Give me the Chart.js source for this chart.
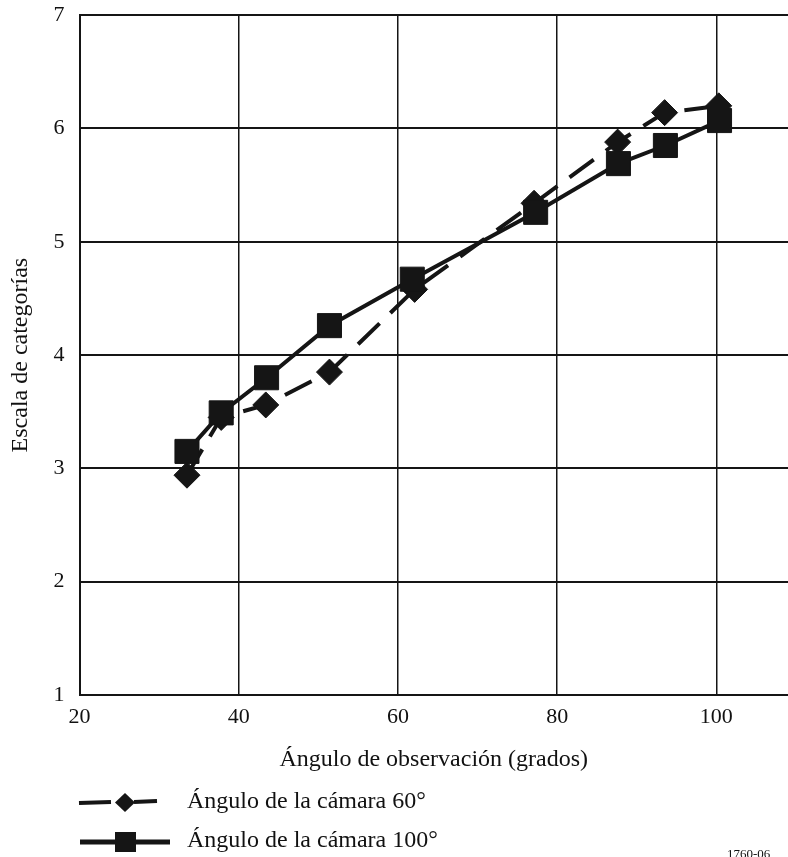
<!DOCTYPE html>
<html>
<head>
<meta charset="utf-8">
<script src="https://cdn.jsdelivr.net/npm/chart.js@4/dist/chart.umd.min.js"></script>
<style>
  html, body { margin: 0; padding: 0; background: #fff; }
  body { width: 788px; height: 857px; position: relative; overflow: hidden; font-family: "Liberation Serif", "DejaVu Serif", serif; color: #111; }
  #c { position: absolute; left: 0; top: -13px; }
  .leg { position: absolute; left: 0; font-size: 24px; white-space: nowrap; }
  .leg svg { position: absolute; left: 0; top: 0; }
  .leg span { position: absolute; left: 187px; }
  #ref { position: absolute; left: 727px; top: 846px; font-size: 13px; white-space: nowrap; }
</style>
</head>
<body>
<canvas id="c" width="806" height="870"></canvas>
<div class="leg" style="top:783px;">
  <svg width="180" height="40"><line x1="79" y1="20" x2="111" y2="19" stroke="#151515" stroke-width="4"/><line x1="134" y1="19" x2="157" y2="18" stroke="#151515" stroke-width="4"/><polygon points="125,10 135,19.5 125,29 115,19.5" fill="#151515"/></svg>
  <span style="top:4px;">Ángulo de la cámara 60°</span>
</div>
<div class="leg" style="top:822px;">
  <svg width="180" height="40"><line x1="80" y1="20" x2="170" y2="20" stroke="#151515" stroke-width="5"/><rect x="115" y="10" width="21" height="20" fill="#151515"/></svg>
  <span style="top:4px;">Ángulo de la cámara 100°</span>
</div>
<div id="ref">1760-06</div>
<script>
const xCam60 = [33.5, 37.8, 43.4, 51.4, 62.1, 77.1, 87.6, 93.5, 100.3];
const yCam60 = [2.94, 3.45, 3.56, 3.85, 4.58, 5.34, 5.88, 6.14, 6.20];
const xCam100 = [33.5, 37.8, 43.5, 51.4, 61.8, 77.3, 87.7, 93.6, 100.4];
const yCam100 = [3.15, 3.49, 3.80, 4.26, 4.67, 5.26, 5.69, 5.85, 6.07];
const xTicks = [20, 40, 60, 80, 100];
const yTicks = [1, 2, 3, 4, 5, 6, 7];
const xTitle = 'Ángulo de observación (grados)';
const yTitle = 'Escala de categorías';
const seriesNames = ['Ángulo de la cámara 60°', 'Ángulo de la cámara 100°'];

const toPts = (xs, ys) => xs.map((x, i) => ({x: x, y: ys[i]}));
const ink = '#151515';
const tickFont = {family: '"Liberation Serif", serif', size: 22};
const titleFont = {family: '"Liberation Serif", serif', size: 24};

new Chart(document.getElementById('c'), {
  type: 'scatter',
  data: {
    datasets: [
      {
        label: seriesNames[1], data: toPts(xCam100, yCam100), showLine: true,
        borderColor: ink, backgroundColor: ink, borderWidth: 4,
        pointStyle: 'rect', pointRadius: 17, pointBorderWidth: 1,
        pointBackgroundColor: ink, pointBorderColor: ink, order: 0
      },
      {
        label: seriesNames[0], data: toPts(xCam60, yCam60), showLine: true,
        borderColor: ink, backgroundColor: ink, borderWidth: 4, borderDash: [30, 15],
        pointStyle: 'rectRot', pointRadius: 13, pointBorderWidth: 1,
        pointBackgroundColor: ink, pointBorderColor: ink, order: 1
      }
    ]
  },
  options: {
    responsive: false, animation: false,
    layout: {padding: {top: 2, right: 0, bottom: 0, left: 0}},
    plugins: {legend: {display: false}, tooltip: {enabled: false}},
    scales: {
      x: {
        type: 'linear', min: 20, max: 109,
        afterBuildTicks: s => { s.ticks = xTicks.map(v => ({value: v})); },
        afterFit: s => { s.height = 870 - 708; },
        ticks: {color: '#111', font: tickFont, padding: 9, maxRotation: 0},
        grid: {color: ink, lineWidth: 1.5, drawTicks: false},
        border: {color: ink, width: 2},
        title: {display: true, text: xTitle, color: '#111', font: titleFont, padding: {top: 0, bottom: 83}}
      },
      y: {
        type: 'linear', min: 1, max: 7,
        afterBuildTicks: s => { s.ticks = yTicks.map(v => ({value: v})); },
        afterFit: s => { s.width = 79.5; },
        ticks: {color: '#111', font: tickFont, padding: 15},
        grid: {color: ink, lineWidth: 2, drawTicks: false},
        border: {color: ink, width: 2},
        title: {display: true, text: yTitle, color: '#111', font: titleFont, padding: {top: 6, bottom: 0}}
      }
    }
  }
});
</script>
</body>
</html>
